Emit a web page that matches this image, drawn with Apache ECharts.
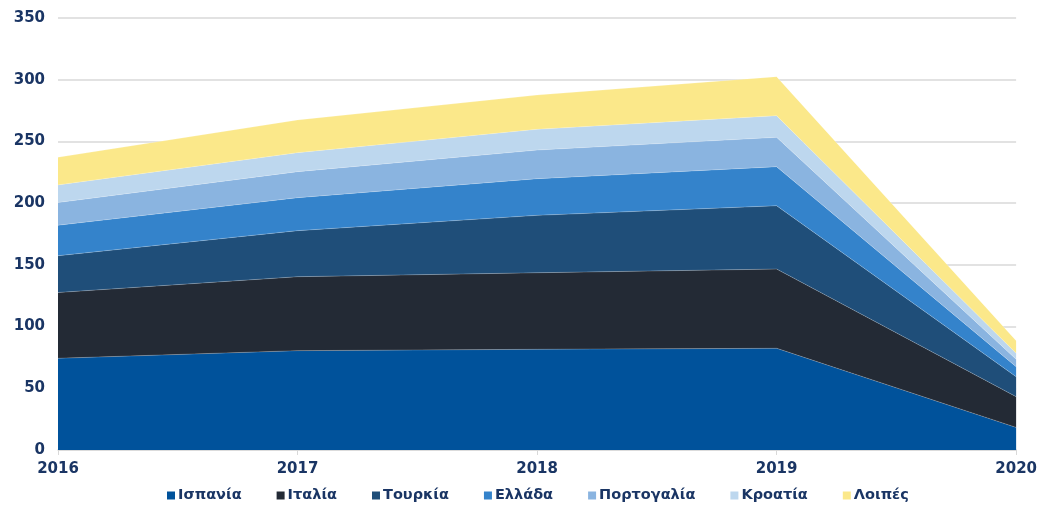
<!DOCTYPE html>
<html>
<head>
<meta charset="utf-8">
<script src="https://cdn.jsdelivr.net/npm/echarts@6/dist/echarts.min.js"></script>
<style>
  html, body { margin: 0; padding: 0; background: #fff; }
  #chart { width: 1040px; height: 513px; }
</style>
</head>
<body>
<div id="chart"></div>
<script>
// έτη
var years = ['2016', '2017', '2018', '2019', '2020'];
var yTicks = [0, 50, 100, 150, 200, 250, 300, 350];

// τιμές ανά χώρα (διαβασμένες από την εικόνα)
var spain    = [74.3, 80.5, 81.6, 82.4, 18.3];
var italy    = [53.3, 59.9, 62.0, 64.2, 24.9];
var turkey   = [29.8, 37.3, 46.5, 51.3, 16.2];
var greece   = [24.7, 26.7, 29.7, 31.6, 8.1];
var portugal = [18.4, 21.1, 23.2, 23.8, 6.0];
var croatia  = [14.3, 15.4, 16.8, 17.6, 4.8];
var others   = [22.4, 26.5, 27.8, 31.6, 10.3];

var names  = ['Ισπανία', 'Ιταλία', 'Τουρκία', 'Ελλάδα', 'Πορτογαλία', 'Κροατία', 'Λοιπές'];
var values = [spain, italy, turkey, greece, portugal, croatia, others];
var colors = ['#00529b', '#232a35', '#1f4e79', '#3483cb', '#8ab4e0', '#bdd7ee', '#fbe88a'];

var series = [];
for (var i = 0; i < names.length; i++) {
    series.push({
        name: names[i],
        type: 'line',
        stack: 'total',
        data: values[i],
        symbol: 'none',
        lineStyle: { width: 0.6, color: 'rgba(255,255,255,0.35)' },
        areaStyle: { color: colors[i], opacity: 1 },
        itemStyle: { color: colors[i] },
        emphasis: { disabled: true }
    });
}

var chart = echarts.init(document.getElementById('chart'));
chart.setOption({
    animation: false,
    backgroundColor: '#fff',
    grid: { left: 58, right: 22, top: 18, bottom: 63 },
    legend: {
        bottom: 5,
        left: 162,
        itemWidth: 8,
        itemHeight: 8,
        itemGap: 35,
        icon: 'rect',
        textStyle: {
            color: '#1a3564',
            fontFamily: 'DejaVu Sans, Verdana, sans-serif',
            fontWeight: 'bold',
            fontSize: 14.5,
            padding: [0, 0, 0, -2]
        },
        data: names
    },
    xAxis: {
        type: 'category',
        data: years,
        boundaryGap: false,
        axisLine: { lineStyle: { color: '#d9d9d9', width: 1.5 } },
        axisTick: { show: true, length: 5, lineStyle: { color: '#d9d9d9' } },
        axisLabel: {
            color: '#1a3564',
            fontFamily: 'DejaVu Sans, Verdana, sans-serif',
            fontWeight: 'bold',
            fontSize: 15,
            margin: 12
        }
    },
    yAxis: {
        type: 'value',
        min: yTicks[0],
        max: yTicks[yTicks.length - 1],
        interval: 50,
        axisLine: { show: false },
        axisTick: { show: false },
        splitLine: { lineStyle: { color: '#d9d9d9', width: 1.5 } },
        axisLabel: {
            color: '#1a3564',
            fontFamily: 'DejaVu Sans, Verdana, sans-serif',
            fontWeight: 'bold',
            fontSize: 15,
            margin: 13
        }
    },
    series: series
});
</script>
</body>
</html>
